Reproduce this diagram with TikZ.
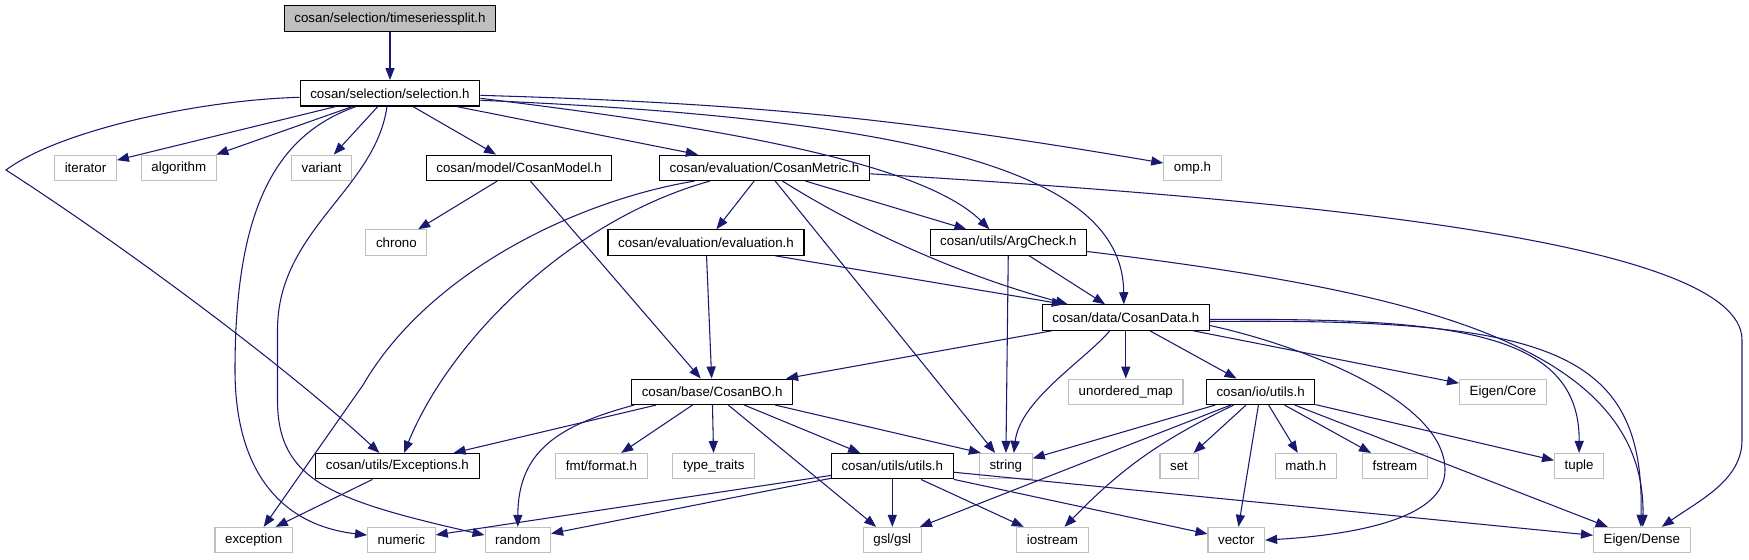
\documentclass[tikz,border=0pt]{standalone}
\usepackage{fontspec}
\setmainfont{Liberation Sans}
\usetikzlibrary{arrows.meta,calc}
\definecolor{edgeblue}{HTML}{191970}
\definecolor{sysgray}{HTML}{BFBFBF}
\begin{document}
\begin{tikzpicture}[x=0.75pt,y=-0.75pt,
 box/.style={rectangle, draw=black, line width=0.8pt, fill=white, inner xsep=7.6pt, inner ysep=0pt, minimum height=19.1pt, font=\fontsize{10}{12}\selectfont, text=black},
 filebox/.style={box},
 sysbox/.style={box, draw=sysgray},
 mainbox/.style={box, fill=sysgray},
 edge/.style={draw=edgeblue, line width=0.8pt, -{Triangle[length=9pt,width=6.8pt]}},
]
\useasboundingbox (0,0) rectangle (1749,560);
% nodes
\node[mainbox] (ts) at (390,18.7) {cosan/selection/timeseriessplit.h};
\node[filebox] (sel) at (390,93.3) {cosan/selection/selection.h};
\node[sysbox] (iterator) at (85.5,167.8) {iterator};
\node[sysbox] (algorithm) at (178.8,167.8) {algorithm};
\node[sysbox] (variant) at (321.6,167.8) {variant};
\node[filebox] (model) at (519,167.8) {cosan/model/CosanModel.h};
\node[filebox] (metric) at (764.5,167.8) {cosan/evaluation/CosanMetric.h};
\node[sysbox] (omp) at (1192.4,167.8) {omp.h};
\node[sysbox] (chrono) at (396.4,242.5) {chrono};
\node[filebox] (eval) at (706,242.5) {cosan/evaluation/evaluation.h};
\node[filebox] (arg) at (1008.4,242.5) {cosan/utils/ArgCheck.h};
\node[filebox] (cdata) at (1125.8,317.5) {cosan/data/CosanData.h};
\node[filebox] (bo) at (712.2,391.8) {cosan/base/CosanBO.h};
\node[sysbox] (umap) at (1125.8,391.8) {unordered\_map};
\node[filebox] (io) at (1260.6,391.8) {cosan/io/utils.h};
\node[sysbox] (ecore) at (1503,391.8) {Eigen/Core};
\node[filebox] (exch) at (397.4,466.2) {cosan/utils/Exceptions.h};
\node[sysbox] (fmt) at (601.5,466.2) {fmt/format.h};
\node[sysbox] (tt) at (713.8,466.2) {type\_traits};
\node[filebox] (uu) at (892.3,466.2) {cosan/utils/utils.h};
\node[sysbox] (string) at (1005.8,466.2) {string};
\node[sysbox] (set) at (1179,466.2) {set};
\node[sysbox] (math) at (1305.8,466.2) {math.h};
\node[sysbox] (fstream) at (1394.9,466.2) {fstream};
\node[sysbox] (tuple) at (1579.1,466.2) {tuple};
\node[sysbox] (exception) at (253.7,540.1) {exception};
\node[sysbox] (numeric) at (401.4,540.1) {numeric};
\node[sysbox] (random) at (517.8,540.1) {random};
\node[sysbox] (gsl) at (892.3,540.1) {gsl/gsl};
\node[sysbox] (iostream) at (1052.5,540.1) {iostream};
\node[sysbox] (vector) at (1236.3,540.1) {vector};
\node[sysbox] (edense) at (1641.8,540.1) {Eigen/Dense};
% waypoints
\coordinate (kink) at (6,170);
\coordinate (wnum) at (235,370);
\coordinate (wrA) at (277.5,330);
\coordinate (wrB) at (277.5,400);
\coordinate (wexc) at (363,385);
\coordinate (wedA) at (1742,340);
\coordinate (wedB) at (1742,440);
\coordinate (wvec) at (1445,470);
% edges
\draw[edge] (ts) -- (sel);
\draw[edge] ($(sel.west)+(0,4)$) .. controls (200,100) and (60,130) .. (kink) .. controls (130,250) and (290,370) .. ($(exch.north)+(-18,0)$);
\draw[edge] (sel) -- (iterator);
\draw[edge] (sel) -- (algorithm);
\draw[edge] ($(sel.south)+(-34,0)$) .. controls (275,135) and (235,210) .. (wnum) .. controls (235,470) and (280,525) .. ($(numeric.west)+(0,-5)$);
\draw[edge] (sel) -- (variant);
\draw[edge] ($(sel.south)+(-3,0)$) .. controls (375,190) and (277.5,230) .. (wrA) -- (wrB) .. controls (277.5,480) and (330,500) .. ($(random.west)+(0,-5)$);
\draw[edge] (sel) -- (model);
\draw[edge] (sel) -- (metric);
\draw[edge] ($(sel.east)+(0,5)$) .. controls (700,125) and (920,160) .. ($(arg.north)+(-19,0)$);
\draw[edge] ($(sel.east)+(0,7)$) .. controls (950,120) and (1123,180) .. ($(cdata.north)+(-2,0)$);
\draw[edge] (sel) to[bend left=4] (omp);
\draw[edge] (model) -- (chrono);
\draw[edge] (model) -- (bo);
\draw[edge] ($(metric.south)+(-54.5,0)$) .. controls (570,220) and (450,340) .. ($(exch.north)+(6.6,0)$);
\draw[edge] ($(metric.south)+(-70,0)$) .. controls (580,200) and (430,270) .. (wexc) -- ($(exception.north)+(10,0)$);
\draw[edge] (metric) -- (eval);
\draw[edge] (metric) -- (string);
\draw[edge] ($(metric.south)+(18,0)$) .. controls (860,230) and (960,275) .. ($(cdata.north west)+(26,0)$);
\draw[edge] ($(metric.south)+(41,0)$) -- ($(arg.north)+(-42,0)$);
\draw[edge] ($(metric.east)+(0,6)$) .. controls (1300,200) and (1742,240) .. (wedA) -- (wedB) .. controls (1742,480) and (1700,500) .. ($(edense.north)+(20,0)$);
\draw[edge] (eval) -- (bo);
\draw[edge] ($(eval.south)+(69,0)$) -- ($(cdata.north west)+(22,0)$);
\draw[edge] (arg) -- (string);
\draw[edge] (arg) -- (cdata);
\draw[edge] ($(arg.east)+(0,9)$) .. controls (1400,290) and (1646,340) .. ($(edense.north)+(1,0)$);
\draw[edge] (cdata) -- (bo);
\draw[edge] ($(cdata.south)+(-16,0)$) .. controls (1085,360) and (1020,400) .. ($(string.north)+(8,0)$);
\draw[edge] (cdata) -- (umap);
\draw[edge] (cdata) -- (io);
\draw[edge] (cdata) -- (ecore);
\draw[edge] ($(cdata.east)+(0,8)$) .. controls (1300,345) and (1445,400) .. (wvec) .. controls (1445,520) and (1350,535) .. (vector.east);
\draw[edge] ($(cdata.east)+(0,2)$) .. controls (1450,318) and (1580,330) .. (tuple.north);
\draw[edge] ($(cdata.east)+(0,4)$) .. controls (1550,318) and (1645,350) .. ($(edense.north)+(-1,0)$);
\draw[edge] (bo) -- (exch);
\draw[edge] ($(bo.south west)+(3,0)$) .. controls (560,425) and (518,450) .. (random.north);
\draw[edge] (bo) -- (fmt);
\draw[edge] (bo) -- (tt);
\draw[edge] (bo) -- (gsl);
\draw[edge] (bo) -- (uu);
\draw[edge] ($(bo.south)+(63,0)$) -- ($(string.north west)+(2,0)$);
\draw[edge] (io) -- (string);
\draw[edge] ($(io.south)+(-30,0)$) -- ($(gsl.north east)+(-2,0)$);
\draw[edge] ($(io.south)+(-27,0)$) to[bend right=10] ($(iostream.north)+(12,0)$);
\draw[edge] (io) -- (set);
\draw[edge] (io) -- (vector);
\draw[edge] (io) -- (math);
\draw[edge] (io) -- (fstream);
\draw[edge] (io) -- (tuple);
\draw[edge] (io) -- (edense);
\draw[edge] (uu) -- (numeric);
\draw[edge] (uu) -- (random);
\draw[edge] (uu) -- (gsl);
\draw[edge] (uu) -- (iostream);
\draw[edge] (uu) -- (vector);
\draw[edge] (uu) -- (edense);
\draw[edge] ($(exch.south)+(-25,0)$) -- ($(exception.north)+(22,0)$);
\end{tikzpicture}
\end{document}
